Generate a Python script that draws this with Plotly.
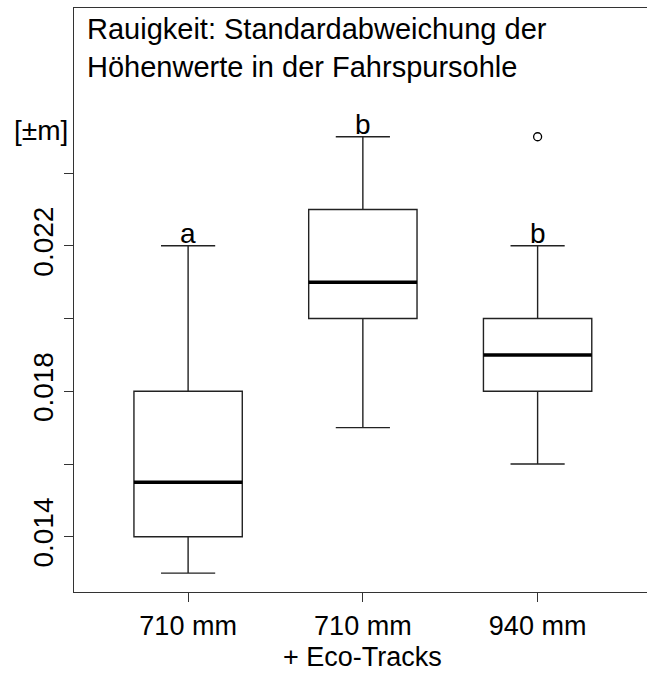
import plotly.graph_objects as go

# Groups and five-number summaries (m)
groups = ["710 mm", "710 mm\n+ Eco-Tracks", "940 mm"]
lower_whisker = [0.0130, 0.0170, 0.0160]
q1 = [0.0140, 0.0200, 0.0180]
median = [0.0155, 0.0210, 0.0190]
q3 = [0.0180, 0.0230, 0.0200]
upper_whisker = [0.0220, 0.0250, 0.0220]

# Outliers: (group index, value)
outlier_group = [2]
outlier_value = [0.0250]

# Significance letters
letters = ["a", "b", "b"]

# Axis ticks
y_ticks = [0.014, 0.016, 0.018, 0.020, 0.022, 0.024]
y_ticktext = ["0.014", "", "0.018", "", "0.022", ""]

pos = [i + 1 for i in range(len(groups))]
box_w = 0.62
FONT = "Liberation Sans, Arial, sans-serif"
FS = 28
FS_X = 27

fig = go.Figure()

fig.add_trace(go.Box(
    x=pos, q1=q1, median=median, q3=q3,
    lowerfence=lower_whisker, upperfence=upper_whisker,
    width=box_w, whiskerwidth=0.5,
    line=dict(color="#222222", width=1.4),
    fillcolor="white", boxpoints=False, hoverinfo="skip",
    showlegend=False,
))

# Thick median bars
mx, my = [], []
for p, m in zip(pos, median):
    mx += [p - box_w / 2, p + box_w / 2, None]
    my += [m, m, None]
fig.add_trace(go.Scatter(
    x=mx, y=my, mode="lines",
    line=dict(color="black", width=3.5),
    showlegend=False, hoverinfo="skip",
))

# Outlying points
fig.add_trace(go.Scatter(
    x=[pos[g] for g in outlier_group], y=outlier_value, mode="markers",
    marker=dict(symbol="circle-open", size=8, color="black",
                line=dict(width=1.3)),
    showlegend=False, hoverinfo="skip",
))

# Letters above the upper whiskers
for p, u, t in zip(pos, upper_whisker, letters):
    fig.add_annotation(
        x=p, y=u, text=t, showarrow=False,
        xanchor="center", yanchor="bottom", yshift=-5,
        font=dict(size=FS, color="black", family=FONT),
    )

# Group labels: first line as tick text, continuation line set tighter below
tick_first = [g.split("\n")[0] for g in groups]
for p, g in zip(pos, groups):
    rest = g.split("\n")[1:]
    if rest:
        fig.add_annotation(
            x=p, xref="x", yref="paper", y=0, text="<br>".join(rest),
            showarrow=False, xanchor="center", yanchor="bottom",
            yshift=-81, borderpad=0,
            font=dict(size=FS_X, color="black", family=FONT),
        )

fig.add_annotation(
    xref="paper", yref="paper", x=0.02, y=0.995,
    xanchor="left", yanchor="top", align="left", showarrow=False,
    text="Rauigkeit: Standardabweichung der<br>Höhenwerte in der Fahrspursohle",
    font=dict(size=29, color="black", family=FONT),
)

fig.add_annotation(
    xref="paper", yref="paper", x=0.0, y=0.79,
    xanchor="right", yanchor="middle", showarrow=False,
    text="[±m]", xshift=-4,
    font=dict(size=FS, color="black", family=FONT),
)

fig.update_layout(
    width=647, height=673,
    margin=dict(l=74, r=0, t=8, b=81),
    paper_bgcolor="white", plot_bgcolor="white",
    font=dict(family=FONT, size=FS, color="black"),
    xaxis=dict(
        range=[0.347, 3.626], tickvals=pos, ticktext=tick_first,
        showgrid=False, zeroline=False, automargin=False,
        showline=True, linecolor="#333333", linewidth=1.4, mirror=True,
        ticks="outside", ticklen=9, tickcolor="#333333", tickwidth=1.4,
        tickfont=dict(size=FS_X, family=FONT),
    ),
    yaxis=dict(
        range=[0.01248, 0.02854], tickvals=y_ticks, ticktext=y_ticktext,
        showgrid=False, zeroline=False, automargin=False,
        showline=True, linecolor="#333333", linewidth=1.4, mirror=False,
        ticks="outside", ticklen=9, tickcolor="#333333", tickwidth=1.4,
        tickangle=-90, tickfont=dict(size=FS, family=FONT),
    ),
)

fig.write_html("out.html")
